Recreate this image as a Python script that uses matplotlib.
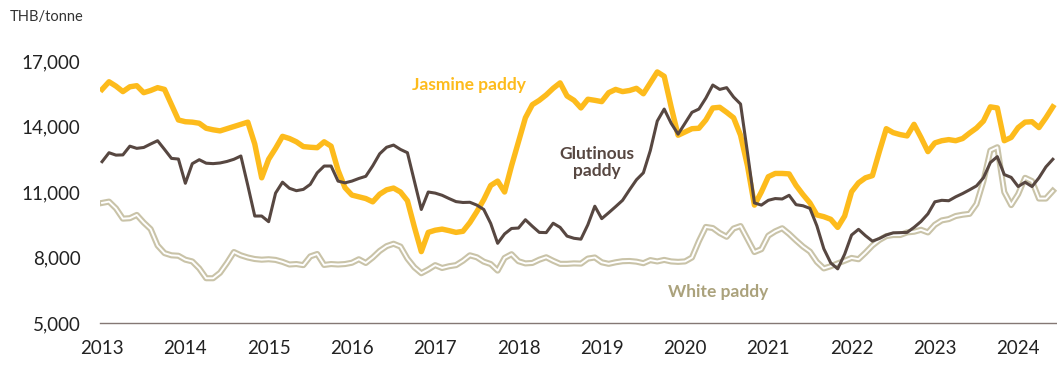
import numpy as np
import matplotlib
matplotlib.use("Agg")
import matplotlib.pyplot as plt

# --- Data: monthly paddy prices, Jan 2013 - Jun 2024 (THB/tonne) ---
years = list(range(2013, 2025))

jasmine = [
    15700, 16050, 15850, 15600, 15820, 15870, 15550, 15650, 15780, 15700, 15000, 14300,  # 2013
    14220, 14200, 14150, 13920, 13850, 13800, 13900, 14000, 14100, 14200, 13200, 11650,  # 2014
    12500, 13000, 13550, 13450, 13300, 13080, 13050, 13030, 13300, 13100, 12000, 11200,  # 2015
    10860, 10780, 10700, 10550, 10900, 11100, 11180, 11000, 10600, 9400, 8270, 9150,     # 2016
    9250, 9300, 9230, 9150, 9200, 9600, 10100, 10650, 11300, 11500, 11000, 12200,        # 2017
    13300, 14400, 15000, 15200, 15450, 15750, 16000, 15400, 15200, 14850, 15250, 15200,  # 2018
    15140, 15550, 15700, 15600, 15650, 15750, 15500, 16000, 16500, 16300, 14900, 13600,  # 2019
    13750, 13900, 13920, 14300, 14850, 14880, 14650, 14400, 13600, 12200, 10400, 11000,  # 2020
    11700, 11850, 11850, 11830, 11300, 10880, 10500, 9950, 9870, 9750, 9380, 9900,       # 2021
    11010, 11420, 11650, 11750, 12850, 13900, 13720, 13630, 13570, 14100, 13500, 12850,  # 2022
    13250, 13350, 13400, 13350, 13450, 13700, 13930, 14250, 14900, 14850, 13350, 13500,  # 2023
    13950, 14200, 14220, 13950, 14400, 14900,                                            # 2024
]

glutinous = [
    12390, 12800, 12690, 12700, 13100, 13000, 13040, 13200, 13350, 12950, 12540, 12510,  # 2013
    11400, 12300, 12480, 12320, 12300, 12330, 12400, 12500, 12650, 11300, 9900, 9900,    # 2014
    9640, 10950, 11450, 11170, 11060, 11120, 11350, 11880, 12190, 12190, 11500, 11420,   # 2015
    11500, 11620, 11720, 12200, 12750, 13050, 13150, 12950, 12800, 11500, 10200, 11000,  # 2016
    10950, 10850, 10700, 10560, 10520, 10530, 10400, 10200, 9560, 8650, 9080, 9330,      # 2017
    9350, 9730, 9430, 9150, 9140, 9570, 9380, 8980, 8880, 8840, 9500, 10350,             # 2018
    9780, 10050, 10330, 10620, 11100, 11560, 11880, 12900, 14250, 14800, 14150, 13650,   # 2019
    14150, 14650, 14800, 15300, 15900, 15700, 15780, 15350, 15030, 12800, 10500, 10400,  # 2020
    10620, 10700, 10680, 10850, 10420, 10370, 10250, 9450, 8400, 7750, 7480, 8150,       # 2021
    9030, 9290, 9000, 8750, 8870, 9030, 9130, 9140, 9150, 9380, 9650, 10000,             # 2022
    10550, 10620, 10600, 10780, 10930, 11100, 11280, 11650, 12350, 12620, 11800, 11670,  # 2023
    11250, 11450, 11250, 11650, 12150, 12500,                                            # 2024
]

white = [
    10500, 10560, 10250, 9780, 9800, 9950, 9600, 9300, 8550, 8200, 8100, 8080,           # 2013
    7900, 7820, 7500, 7050, 7050, 7300, 7750, 8250, 8100, 8000, 7930, 7900,              # 2014
    7920, 7890, 7800, 7680, 7700, 7650, 8050, 8160, 7660, 7700, 7680, 7700,              # 2015
    7760, 7920, 7750, 8000, 8300, 8520, 8630, 8500, 7950, 7550, 7280, 7450,              # 2016
    7650, 7520, 7600, 7650, 7850, 8100, 8010, 7810, 7700, 7400, 7980, 8150,              # 2017
    7830, 7730, 7750, 7900, 8010, 7850, 7710, 7710, 7730, 7720, 7950, 8000,              # 2018
    7780, 7710, 7780, 7830, 7840, 7810, 7740, 7880, 7820, 7890, 7820, 7800,              # 2019
    7820, 8000, 8750, 9400, 9350, 9120, 8950, 9330, 9440, 8850, 8250, 8380,              # 2020
    9000, 9200, 9340, 9080, 8780, 8500, 8270, 7800, 7500, 7600, 7730, 7850,              # 2021
    7980, 7920, 8220, 8550, 8800, 8980, 9030, 9030, 9150, 9180, 9270, 9150,              # 2022
    9500, 9700, 9760, 9900, 9960, 10000, 10450, 11500, 12900, 13050, 11000, 10400,       # 2023
    10900, 11650, 11500, 10700, 10700, 11050,                                            # 2024
]

months = np.arange(len(jasmine))

# --- Colours ---
c_jasmine = "#FDBB1C"
c_glut = "#574741"
c_white = "#C9C3A8"
c_white_txt = "#ABA27C"

plt.rcParams['font.family'] = ['Lato', 'DejaVu Sans']

fig = plt.figure(figsize=(10.57, 3.65), dpi=100)
ax = fig.add_axes([0.0946, 0.1151, 0.9054, 0.7775])

# white paddy: double-line look (thick beige with thin white core)
ax.plot(months, white, color=c_white, lw=4.4, zorder=2)
ax.plot(months, white, color="white", lw=1.4, zorder=3)
ax.plot(months, jasmine, color=c_jasmine, lw=3.9, zorder=4)
ax.plot(months, glutinous, color=c_glut, lw=2.2, zorder=5)

ax.set_xlim(-0.3, 137.6)
ax.set_ylim(5000, 18000)

ax.set_yticks([5000, 8000, 11000, 14000, 17000])
ax.set_yticklabels([f"{v:,}" for v in [5000, 8000, 11000, 14000, 17000]])
ax.set_xticks([12 * i for i in range(len(years))])
ax.set_xticklabels([str(y) for y in years])
ax.tick_params(axis='y', length=0, pad=14, labelsize=13.5, labelcolor="#222222")
ax.tick_params(axis='x', length=0, pad=12, labelsize=13.5, labelcolor="#222222")

for s in ['top', 'right', 'left']:
    ax.spines[s].set_visible(False)
ax.spines['bottom'].set_color("#847874")
ax.spines['bottom'].set_linewidth(1.0)

# --- Labels ---
fig.text(0.009, 0.953, "THB/tonne", fontsize=10.5, color="#333333", va='center', ha='left')
ax.text(52.9, 15880, "Jasmine paddy", color=c_jasmine, fontsize=12.5, fontweight='bold',
        ha='center', va='center')
ax.text(71.3, 12350, "Glutinous\npaddy", color=c_glut, fontsize=12.5, fontweight='bold',
        ha='center', va='center', linespacing=1.1)
ax.text(88.8, 6400, "White paddy", color=c_white_txt, fontsize=12.5, fontweight='bold',
        ha='center', va='center')

fig.savefig("out.png", dpi=100)
